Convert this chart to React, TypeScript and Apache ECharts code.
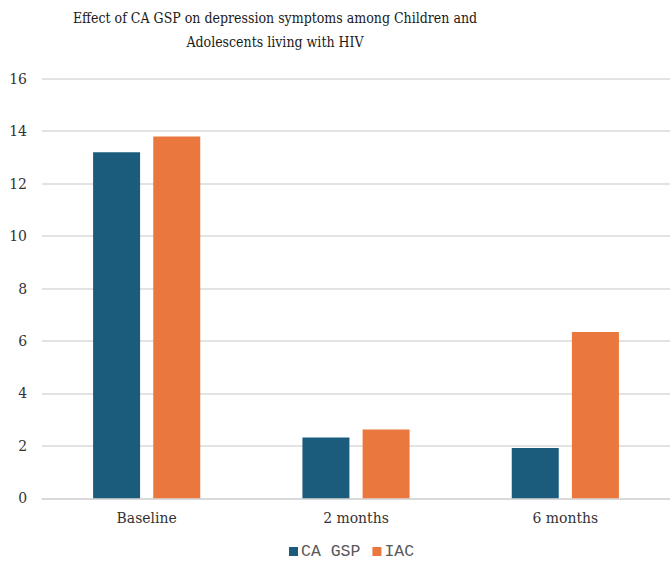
import React, { useEffect, useRef } from "react";
import * as echarts from "echarts";

const categories = ["Baseline", "2 months", "6 months"];
const caGsp = [13.2, 2.32, 1.92];
const iac = [13.8, 2.62, 6.34];
const seriesNames = ["CA GSP", "IAC"];
const titleLines = [
  "Effect of CA GSP on depression symptoms among Children and",
  "Adolescents living with HIV",
];

export default function App() {
  const ref = useRef<HTMLDivElement>(null);
  useEffect(() => {
    if (!ref.current) return;
    const chart = echarts.init(ref.current, undefined, { renderer: "svg" });
    const serif = "'DejaVu Serif Condensed', 'DejaVu Serif', serif";
    chart.setOption({
      animation: false,
      backgroundColor: "#ffffff",
      graphic: [
        {
          type: "text",
          x: 275,
          y: 6,
          style: {
            text: titleLines.join("\n"),
            fontFamily: serif,
            fontSize: 14,
            lineHeight: 24,
            fill: "#1a1a1a",
            textAlign: "center",
          },
        },
      ],
      legend: {
        data: seriesNames,
        left: 284,
        bottom: -3,
        itemWidth: 9,
        itemHeight: 9,
        itemGap: 12,
        icon: "rect",
        textStyle: {
          fontFamily: "'Liberation Mono', 'Courier New', monospace",
          fontSize: 16.5,
          color: "#595959",
          padding: [0, 0, 0, -2],
        },
      },
      grid: { left: 42, width: 636, top: 78.7, bottom: 63.7, containLabel: false },
      xAxis: {
        type: "category",
        data: categories,
        axisLine: { lineStyle: { color: "#d6d6d6", width: 1.5 } },
        axisTick: { show: false },
        axisLabel: {
          fontFamily: serif,
          fontSize: 15.5,
          color: "#333333",
          margin: 12,
        },
      },
      yAxis: {
        type: "value",
        min: 0,
        max: 16,
        interval: 2,
        axisLine: { show: false },
        axisTick: { show: false },
        splitLine: { lineStyle: { color: "#dadada", width: 1.5 } },
        axisLabel: {
          fontFamily: serif,
          fontSize: 15.5,
          color: "#333333",
          margin: 15,
        },
      },
      series: [
        {
          name: seriesNames[0],
          type: "bar",
          data: caGsp,
          barWidth: 47,
          barGap: "28%",
          itemStyle: { color: "#1b5c7c" },
        },
        {
          name: seriesNames[1],
          type: "bar",
          data: iac,
          barWidth: 47,
          itemStyle: { color: "#ea783e" },
        },
      ],
    });
    return () => chart.dispose();
  }, []);
  return (
    <div
      ref={ref}
      style={{ position: "absolute", left: 0, top: 0, width: 670, height: 562 }}
    />
  );
}
